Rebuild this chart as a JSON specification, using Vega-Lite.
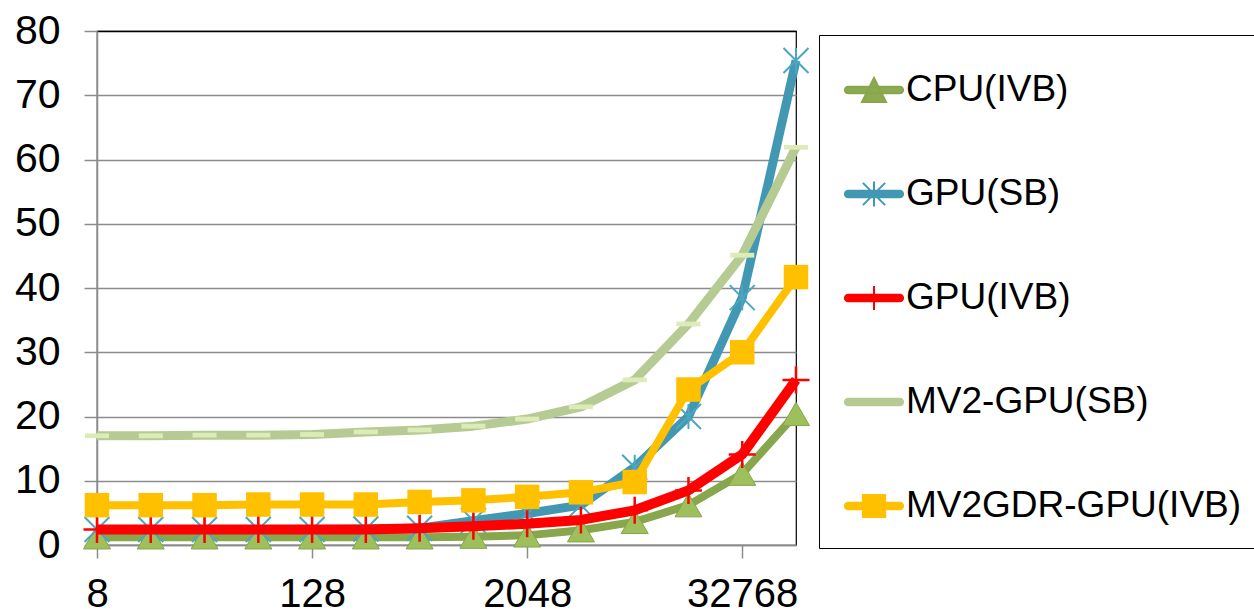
{
  "$schema": "https://vega.github.io/schema/vega-lite/v6.json",
  "width": 699,
  "height": 514,
  "autosize": {"type": "none"},
  "padding": {"left": 97, "top": 31, "right": 458, "bottom": 65},
  "background": "white",
  "config": {
    "view": {"stroke": "black", "strokeWidth": 1.2},
    "font": "Liberation Sans"
  },
  "data": {
    "values": [
      {"series": "CPU(IVB)", "size": 8, "value": 1.2},
      {"series": "CPU(IVB)", "size": 16, "value": 1.2},
      {"series": "CPU(IVB)", "size": 32, "value": 1.2},
      {"series": "CPU(IVB)", "size": 64, "value": 1.2},
      {"series": "CPU(IVB)", "size": 128, "value": 1.2},
      {"series": "CPU(IVB)", "size": 256, "value": 1.2},
      {"series": "CPU(IVB)", "size": 512, "value": 1.2},
      {"series": "CPU(IVB)", "size": 1024, "value": 1.3},
      {"series": "CPU(IVB)", "size": 2048, "value": 1.5},
      {"series": "CPU(IVB)", "size": 4096, "value": 2.3},
      {"series": "CPU(IVB)", "size": 8192, "value": 3.6},
      {"series": "CPU(IVB)", "size": 16384, "value": 6.2},
      {"series": "CPU(IVB)", "size": 32768, "value": 11.1},
      {"series": "CPU(IVB)", "size": 65536, "value": 20.4},
      {"series": "GPU(SB)", "size": 8, "value": 2.4},
      {"series": "GPU(SB)", "size": 16, "value": 2.4},
      {"series": "GPU(SB)", "size": 32, "value": 2.4},
      {"series": "GPU(SB)", "size": 64, "value": 2.4},
      {"series": "GPU(SB)", "size": 128, "value": 2.4},
      {"series": "GPU(SB)", "size": 256, "value": 2.5},
      {"series": "GPU(SB)", "size": 512, "value": 2.6},
      {"series": "GPU(SB)", "size": 1024, "value": 3.8},
      {"series": "GPU(SB)", "size": 2048, "value": 4.9},
      {"series": "GPU(SB)", "size": 4096, "value": 6.2},
      {"series": "GPU(SB)", "size": 8192, "value": 12.1},
      {"series": "GPU(SB)", "size": 16384, "value": 20.0},
      {"series": "GPU(SB)", "size": 32768, "value": 38.5},
      {"series": "GPU(SB)", "size": 65536, "value": 75.4},
      {"series": "GPU(IVB)", "size": 8, "value": 2.4},
      {"series": "GPU(IVB)", "size": 16, "value": 2.4},
      {"series": "GPU(IVB)", "size": 32, "value": 2.4},
      {"series": "GPU(IVB)", "size": 64, "value": 2.4},
      {"series": "GPU(IVB)", "size": 128, "value": 2.4},
      {"series": "GPU(IVB)", "size": 256, "value": 2.4},
      {"series": "GPU(IVB)", "size": 512, "value": 2.6},
      {"series": "GPU(IVB)", "size": 1024, "value": 2.9},
      {"series": "GPU(IVB)", "size": 2048, "value": 3.3},
      {"series": "GPU(IVB)", "size": 4096, "value": 3.9},
      {"series": "GPU(IVB)", "size": 8192, "value": 5.4},
      {"series": "GPU(IVB)", "size": 16384, "value": 8.5},
      {"series": "GPU(IVB)", "size": 32768, "value": 14.1},
      {"series": "GPU(IVB)", "size": 65536, "value": 25.7},
      {"series": "MV2-GPU(SB)", "size": 8, "value": 17.0},
      {"series": "MV2-GPU(SB)", "size": 16, "value": 17.0},
      {"series": "MV2-GPU(SB)", "size": 32, "value": 17.1},
      {"series": "MV2-GPU(SB)", "size": 64, "value": 17.1},
      {"series": "MV2-GPU(SB)", "size": 128, "value": 17.2},
      {"series": "MV2-GPU(SB)", "size": 256, "value": 17.6},
      {"series": "MV2-GPU(SB)", "size": 512, "value": 17.9},
      {"series": "MV2-GPU(SB)", "size": 1024, "value": 18.5},
      {"series": "MV2-GPU(SB)", "size": 2048, "value": 19.6},
      {"series": "MV2-GPU(SB)", "size": 4096, "value": 21.5},
      {"series": "MV2-GPU(SB)", "size": 8192, "value": 25.7},
      {"series": "MV2-GPU(SB)", "size": 16384, "value": 34.4},
      {"series": "MV2-GPU(SB)", "size": 32768, "value": 45.1},
      {"series": "MV2-GPU(SB)", "size": 65536, "value": 61.9},
      {"series": "MV2GDR-GPU(IVB)", "size": 8, "value": 6.2},
      {"series": "MV2GDR-GPU(IVB)", "size": 16, "value": 6.2},
      {"series": "MV2GDR-GPU(IVB)", "size": 32, "value": 6.2},
      {"series": "MV2GDR-GPU(IVB)", "size": 64, "value": 6.3},
      {"series": "MV2GDR-GPU(IVB)", "size": 128, "value": 6.3},
      {"series": "MV2GDR-GPU(IVB)", "size": 256, "value": 6.3},
      {"series": "MV2GDR-GPU(IVB)", "size": 512, "value": 6.7},
      {"series": "MV2GDR-GPU(IVB)", "size": 1024, "value": 6.95},
      {"series": "MV2GDR-GPU(IVB)", "size": 2048, "value": 7.5},
      {"series": "MV2GDR-GPU(IVB)", "size": 4096, "value": 8.2},
      {"series": "MV2GDR-GPU(IVB)", "size": 8192, "value": 9.8},
      {"series": "MV2GDR-GPU(IVB)", "size": 16384, "value": 24.2},
      {"series": "MV2GDR-GPU(IVB)", "size": 32768, "value": 30.0},
      {"series": "MV2GDR-GPU(IVB)", "size": 65536, "value": 41.7}
    ]
  },
  "encoding": {
    "x": {
      "field": "size",
      "type": "ordinal",
      "scale": {"type": "point", "padding": 0, "domain": [8, 16, 32, 64, 128, 256, 512, 1024, 2048, 4096, 8192, 16384, 32768, 65536]},
      "axis": {
        "title": null,
        "values": [8, 128, 2048, 32768],
        "labelAngle": 0,
        "labelFont": "Liberation Sans",
        "labelFontSize": 40,
        "labelColor": "black",
        "labelPadding": 16,
        "tickSize": 13,
        "tickColor": "#8C8C8C",
        "tickWidth": 1.5,
        "domainColor": "#8C8C8C",
        "domainWidth": 1.5,
        "grid": false
      }
    },
    "y": {
      "field": "value",
      "type": "quantitative",
      "scale": {"domain": [0, 80], "nice": false},
      "axis": {
        "title": null,
        "values": [0, 10, 20, 30, 40, 50, 60, 70, 80],
        "labelFont": "Liberation Sans",
        "labelFontSize": 41,
        "labelColor": "black",
        "labelPadding": 24,
        "tickSize": 13,
        "tickColor": "#8C8C8C",
        "tickWidth": 1.5,
        "domainColor": "#8C8C8C",
        "domainWidth": 1.5,
        "grid": true,
        "gridColor": {"condition": {"test": "datum.value === 80", "value": "black"}, "value": "#8C8C8C"},
        "gridWidth": 1.5
      }
    }
  },
  "layer": [
    {
      "transform": [{"filter": "datum.series === 'CPU(IVB)'"}],
      "mark": {"type": "line", "strokeWidth": 8, "strokeJoin": "round"},
      "encoding": {
        "color": {
          "field": "series",
          "type": "nominal",
          "scale": {
            "domain": ["CPU(IVB)", "GPU(SB)", "GPU(IVB)", "MV2-GPU(SB)", "MV2GDR-GPU(IVB)"],
            "range": ["#88A64C", "#4298B2", "#FF0000", "#B5CB93", "#FFC000"]
          },
          "legend": {
            "orient": "none",
            "legendX": 722,
            "legendY": 4,
            "title": null,
            "padding": 24,
            "strokeColor": "black",
            "symbolSize": 3600,
            "rowPadding": 55,
            "labelFont": "Liberation Sans",
            "labelFontSize": 37,
            "labelColor": "black",
            "labelOffset": 1,
            "labelLimit": 1000,
            "encode": {
              "symbols": {
                "update": {
                  "shape": {"signal": "datum.value === 'CPU(IVB)' ? 'M-0.86,-0.11H0.86A0.11,0.11 0 0 1 0.86,0.11H-0.86A0.11,0.11 0 0 1 -0.86,-0.11Z M0,-0.4L0.4,0.4L-0.4,0.4Z' : datum.value === 'GPU(SB)' ? 'M-0.86,-0.11H0.86A0.11,0.11 0 0 1 0.86,0.11H-0.86A0.11,0.11 0 0 1 -0.86,-0.11Z M-0.37,-0.37L0.37,0.37M-0.37,0.37L0.37,-0.37M0,-0.42L0,0.42' : datum.value === 'GPU(IVB)' ? 'M-0.86,-0.11H0.86A0.11,0.11 0 0 1 0.86,0.11H-0.86A0.11,0.11 0 0 1 -0.86,-0.11Z M0,-0.4L0,0.4' : datum.value === 'MV2-GPU(SB)' ? 'M-0.86,-0.11H0.86A0.11,0.11 0 0 1 0.86,0.11H-0.86A0.11,0.11 0 0 1 -0.86,-0.11Z' : 'M-0.86,-0.11H0.86A0.11,0.11 0 0 1 0.86,0.11H-0.86A0.11,0.11 0 0 1 -0.86,-0.11Z M-0.37,-0.37H0.37V0.37H-0.37Z'"},
                  "fill": {"signal": "datum.value === 'CPU(IVB)' ? '#8CAA50' : datum.value === 'GPU(SB)' ? '#4298B2' : datum.value === 'GPU(IVB)' ? '#FF0000' : datum.value === 'MV2-GPU(SB)' ? '#B5CB93' : '#FFC000'"},
                  "stroke": {"signal": "datum.value === 'CPU(IVB)' ? '#8CAA50' : datum.value === 'GPU(SB)' ? '#4298B2' : datum.value === 'GPU(IVB)' ? '#FF0000' : datum.value === 'MV2-GPU(SB)' ? '#B5CB93' : '#FFC000'"},
                  "strokeWidth": {"value": 2},
                  "opacity": {"value": 1},
                  "fillOpacity": {"value": 1},
                  "strokeOpacity": {"value": 1}
                }
              }
            }
          }
        }
      }
    },
    {
      "transform": [{"filter": "datum.series === 'CPU(IVB)'"}],
      "mark": {"type": "point", "shape": "triangle-up", "size": 729, "filled": true, "fill": "#9DC05C", "stroke": "#86A44A", "strokeWidth": 1, "opacity": 1}
    },
    {
      "transform": [{"filter": "datum.series === 'GPU(SB)'"}],
      "mark": {"type": "line", "strokeWidth": 9, "strokeJoin": "round"},
      "encoding": {"color": {"field": "series", "type": "nominal"}}
    },
    {
      "transform": [{"filter": "datum.series === 'GPU(SB)'"}],
      "mark": {"type": "point", "shape": "M-1,-1L1,1M-1,1L1,-1M0,-1L0,1", "size": 625, "filled": false, "fill": "transparent", "stroke": "#4BA6C2", "strokeWidth": 2, "opacity": 1}
    },
    {
      "transform": [{"filter": "datum.series === 'GPU(IVB)'"}],
      "mark": {"type": "line", "strokeWidth": 10, "strokeJoin": "round"},
      "encoding": {"color": {"field": "series", "type": "nominal"}}
    },
    {
      "transform": [{"filter": "datum.series === 'GPU(IVB)'"}],
      "mark": {"type": "point", "shape": "M-1,0L1,0M0,-1L0,1", "size": 729, "filled": false, "fill": "transparent", "stroke": "#FF0000", "strokeWidth": 2.5, "opacity": 1}
    },
    {
      "transform": [{"filter": "datum.series === 'MV2-GPU(SB)'"}],
      "mark": {"type": "line", "strokeWidth": 9, "strokeJoin": "round"},
      "encoding": {"color": {"field": "series", "type": "nominal"}}
    },
    {
      "transform": [{"filter": "datum.series === 'MV2-GPU(SB)'"}],
      "mark": {"type": "point", "shape": "M-1,-0.2H1V0.2H-1Z", "size": 576, "filled": true, "fill": "#DDEBB8", "strokeWidth": 0, "opacity": 1}
    },
    {
      "transform": [{"filter": "datum.series === 'MV2GDR-GPU(IVB)'"}],
      "mark": {"type": "line", "strokeWidth": 8, "strokeJoin": "round"},
      "encoding": {"color": {"field": "series", "type": "nominal"}}
    },
    {
      "transform": [{"filter": "datum.series === 'MV2GDR-GPU(IVB)'"}],
      "mark": {"type": "point", "shape": "square", "size": 600, "filled": true, "fill": "#FFC000", "strokeWidth": 0, "opacity": 1}
    }
  ]
}
